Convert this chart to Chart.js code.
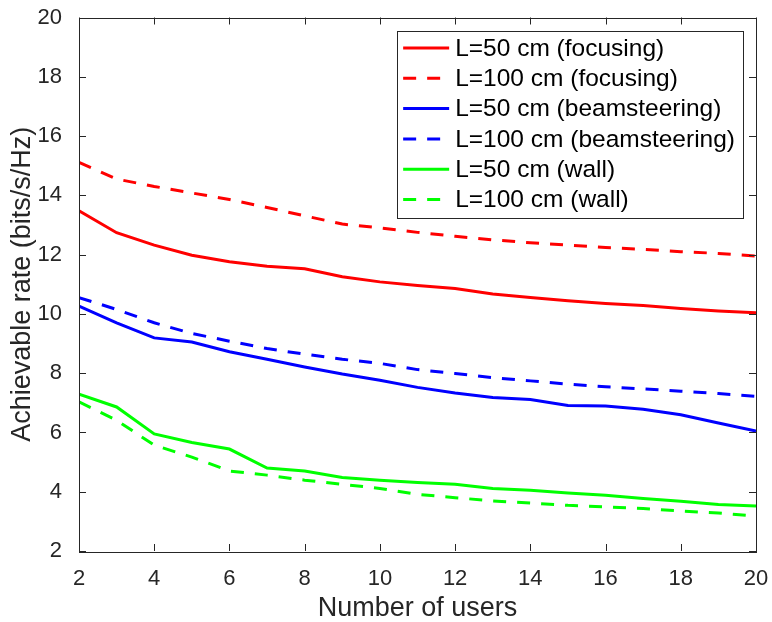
<!DOCTYPE html>
<html>
<head>
<meta charset="utf-8">
<script src="https://cdn.jsdelivr.net/npm/chart.js"></script>
<style>
  body { margin: 0; background: #fff; }
  canvas { display: block; }
</style>
</head>
<body>
<canvas id="rateChart" width="772" height="622"></canvas>
<script>
// number of users on the x axis
const users = [2, 3, 4, 5, 6, 7, 8, 9, 10, 11, 12, 13, 14, 15, 16, 17, 18, 19, 20];

// achievable rate (bits/s/Hz)
const focus50 = [13.48, 12.74, 12.32, 11.98, 11.76, 11.61, 11.52, 11.25, 11.08, 10.96, 10.86, 10.67, 10.55, 10.44, 10.35, 10.28, 10.18, 10.10, 10.04];
const focus100 = [15.11, 14.55, 14.30, 14.08, 13.86, 13.59, 13.31, 13.03, 12.90, 12.75, 12.62, 12.50, 12.40, 12.32, 12.24, 12.18, 12.10, 12.04, 11.95];
const beam50 = [10.26, 9.70, 9.19, 9.05, 8.72, 8.47, 8.21, 7.97, 7.76, 7.52, 7.33, 7.18, 7.11, 6.91, 6.89, 6.78, 6.60, 6.32, 6.05];
const beam100 = [10.55, 10.15, 9.70, 9.34, 9.08, 8.83, 8.64, 8.47, 8.33, 8.12, 7.99, 7.85, 7.74, 7.63, 7.54, 7.47, 7.39, 7.31, 7.22];
const wall50 = [7.29, 6.86, 5.95, 5.66, 5.44, 4.80, 4.70, 4.48, 4.39, 4.31, 4.25, 4.11, 4.05, 3.96, 3.88, 3.77, 3.68, 3.57, 3.52];
const wall100 = [7.03, 6.41, 5.57, 5.17, 4.70, 4.56, 4.39, 4.25, 4.11, 3.91, 3.80, 3.69, 3.62, 3.54, 3.49, 3.43, 3.35, 3.28, 3.18];

const xTicks = [2, 4, 6, 8, 10, 12, 14, 16, 18, 20];
const yTicks = [2, 4, 6, 8, 10, 12, 14, 16, 18, 20];

const FONT = '"Liberation Sans", Arial, Helvetica, sans-serif';
const AXIS_COLOR = '#262626';
const DASH = [13, 11];

function series(label, values, color, dashed) {
    return {
        label: label,
        data: users.map((u, i) => ({ x: u, y: values[i] })),
        borderColor: color,
        backgroundColor: color,
        borderWidth: 3,
        borderDash: dashed ? DASH : [],
        pointRadius: 0,
        tension: 0,
        fill: false
    };
}

// box around the axes with inward ticks (matlab look)
const boxPlugin = {
    id: 'axesBox',
    afterDatasetsDraw(chart) {
        const { ctx, chartArea: a, scales } = chart;
        const tl = 7;
        ctx.save();
        ctx.strokeStyle = AXIS_COLOR;
        ctx.lineWidth = 1;
        ctx.strokeRect(Math.round(a.left) + 0.5, Math.round(a.top) + 0.5,
            Math.round(a.right - a.left), Math.round(a.bottom - a.top));
        ctx.beginPath();
        xTicks.forEach(v => {
            const px = Math.round(scales.x.getPixelForValue(v)) + 0.5;
            ctx.moveTo(px, a.bottom); ctx.lineTo(px, a.bottom - tl);
            ctx.moveTo(px, a.top); ctx.lineTo(px, a.top + tl);
        });
        yTicks.forEach(v => {
            const py = Math.round(scales.y.getPixelForValue(v)) + 0.5;
            ctx.moveTo(a.left, py); ctx.lineTo(a.left + tl, py);
            ctx.moveTo(a.right, py); ctx.lineTo(a.right - tl, py);
        });
        ctx.stroke();
        ctx.restore();
    }
};

// legend drawn inside the top right corner
const legendPlugin = {
    id: 'insideLegend',
    afterDraw(chart) {
        const { ctx, chartArea: a } = chart;
        const sets = chart.data.datasets;
        ctx.save();
        ctx.font = '24.5px ' + FONT;
        let maxW = 0;
        sets.forEach(d => { maxW = Math.max(maxW, ctx.measureText(d.label).width); });
        const right = a.right - 13;
        const top = a.top + 13.5;
        const w = maxW + 58 + 8;
        const left = right - w;
        const rowH = 30.3;
        const h = rowH * sets.length + 5;
        ctx.fillStyle = '#fff';
        ctx.fillRect(left, top, w, h);
        ctx.strokeStyle = AXIS_COLOR;
        ctx.lineWidth = 1;
        ctx.strokeRect(Math.round(left) + 0.5, Math.round(top) + 0.5, Math.round(w), Math.round(h));
        sets.forEach((d, i) => {
            const cy = top + 17 + i * rowH;
            ctx.beginPath();
            ctx.strokeStyle = d.borderColor;
            ctx.lineWidth = 3;
            ctx.setLineDash(d.borderDash);
            ctx.moveTo(left + 6, cy);
            ctx.lineTo(left + 52, cy);
            ctx.stroke();
            ctx.setLineDash([]);
            ctx.fillStyle = '#000';
            ctx.textBaseline = 'middle';
            ctx.textAlign = 'left';
            ctx.fillText(d.label, left + 58, cy + 1);
        });
        ctx.restore();
    }
};

const ctx = document.getElementById('rateChart').getContext('2d');
const chart = new Chart(ctx, {
    type: 'line',
    data: {
        datasets: [
            series('L=50 cm (focusing)', focus50, '#ff0000', false),
            series('L=100 cm (focusing)', focus100, '#ff0000', true),
            series('L=50 cm (beamsteering)', beam50, '#0000ff', false),
            series('L=100 cm (beamsteering)', beam100, '#0000ff', true),
            series('L=50 cm (wall)', wall50, '#00ff00', false),
            series('L=100 cm (wall)', wall100, '#00ff00', true)
        ]
    },
    options: {
        responsive: false,
        animation: false,
        devicePixelRatio: 1,
        layout: { padding: { top: 17.5, right: 16, left: 0, bottom: 0 } },
        plugins: {
            legend: { display: false },
            tooltip: { enabled: false }
        },
        scales: {
            x: {
                type: 'linear',
                min: 2,
                max: 20,
                afterFit: s => { s.height = 71; s.paddingLeft = 0; s.paddingRight = 0; },
                afterBuildTicks: s => { s.ticks = xTicks.map(v => ({ value: v })); },
                grid: { display: false },
                border: { display: false },
                ticks: {
                    padding: 7,
                    color: AXIS_COLOR,
                    font: { family: FONT, size: 22 },
                    maxRotation: 0
                },
                title: {
                    display: true,
                    text: 'Number of users',
                    color: AXIS_COLOR,
                    font: { family: FONT, size: 27 },
                    padding: { top: 0, bottom: -3 }
                }
            },
            y: {
                min: 2,
                max: 20,
                afterFit: s => { s.width = 79; s.paddingTop = 0; s.paddingBottom = 0; },
                afterBuildTicks: s => { s.ticks = yTicks.map(v => ({ value: v })); },
                grid: { display: false },
                border: { display: false },
                ticks: {
                    padding: 9,
                    color: AXIS_COLOR,
                    font: { family: FONT, size: 22 }
                },
                title: {
                    display: true,
                    text: 'Achievable rate (bits/s/Hz)',
                    color: AXIS_COLOR,
                    font: { family: FONT, size: 27 },
                    padding: { top: 6, bottom: 0 }
                }
            }
        }
    },
    plugins: [boxPlugin, legendPlugin]
});
</script>
</body>
</html>
